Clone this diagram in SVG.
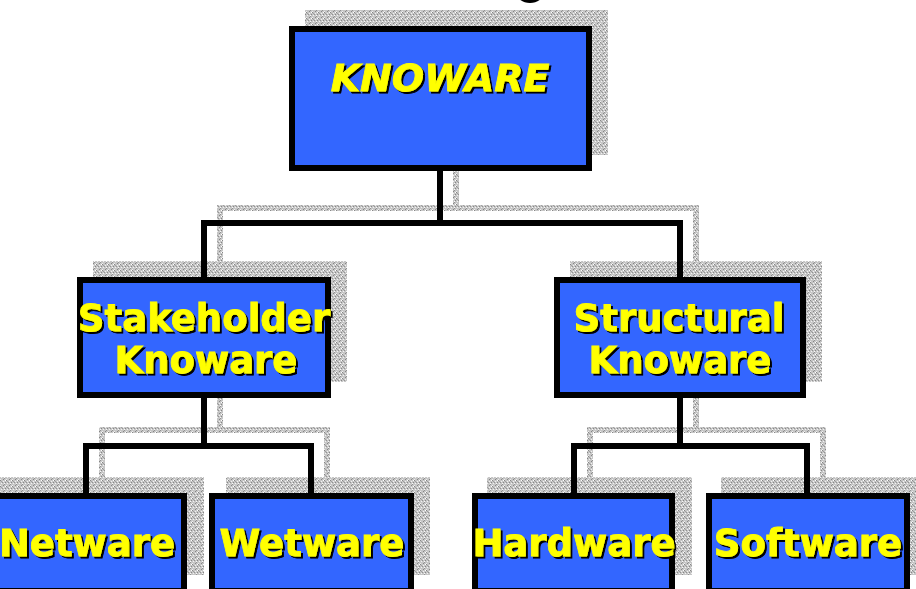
<svg xmlns="http://www.w3.org/2000/svg" width="916" height="589" viewBox="0 0 916 589">
<defs>
<pattern id="stip" patternUnits="userSpaceOnUse" width="6" height="6">
<rect width="6" height="6" fill="#c6c6c6"/>
<rect x="0" y="0" width="1" height="1" fill="#868686"/>
<rect x="3" y="1" width="1" height="1" fill="#f2f2f2"/>
<rect x="2" y="2" width="1" height="1" fill="#939393"/>
<rect x="5" y="2" width="1" height="1" fill="#868686"/>
<rect x="1" y="3" width="1" height="1" fill="#f2f2f2"/>
<rect x="4" y="4" width="1" height="1" fill="#939393"/>
<rect x="0" y="5" width="1" height="1" fill="#eee"/>
<rect x="3" y="5" width="1" height="1" fill="#868686"/>
<rect x="5" y="0" width="1" height="1" fill="#fff"/>
<rect x="1" y="1" width="1" height="1" fill="#a0a0a0"/>
<rect x="4" y="3" width="1" height="1" fill="#fafafa"/>
</pattern>
<filter id="ds" x="-5%" y="-10%" width="115%" height="130%">
<feDropShadow dx="2" dy="2" stdDeviation="0" flood-color="#000" flood-opacity="1"/>
</filter>
</defs>
<style>
.sh{fill:url(#stip);}
.shl{fill:none;stroke:url(#stip);stroke-width:6;}
.box{fill:#3366FF;stroke:#000;stroke-width:6;}
.con{fill:none;stroke:#000;stroke-width:6;stroke-linecap:square;}
.t{font-family:"DejaVu Sans","Verdana",sans-serif;font-weight:bold;font-size:37px;fill:#FFFF00;stroke:#FFFF00;stroke-width:0.8;text-anchor:middle;filter:url(#ds);}
.ti{font-style:italic;font-size:38px;}
</style>
<rect width="916" height="589" fill="#fff"/>
<ellipse cx="530" cy="-8" rx="14" ry="11" fill="#000"/>
<g id="shadows">
<rect class="sh" x="305" y="10" width="303" height="145"/>
<rect class="sh" x="93" y="261" width="254" height="121"/>
<rect class="sh" x="570" y="261" width="252" height="121"/>
<rect class="sh" x="-2" y="477" width="206" height="98"/>
<rect class="sh" x="226" y="477" width="204" height="98"/>
<rect class="sh" x="487" y="477" width="205" height="98"/>
<rect class="sh" x="721" y="477" width="204" height="98"/>
</g>
<g id="connector-shadows">
<path class="shl" d="M456 155 V208 M220 261 V208 H696 V261"/>
<path class="shl" d="M220 382 V430 M102 477 V430 H327 V477"/>
<path class="shl" d="M696 382 V430 M590 477 V430 H823 V477"/>
</g>
<g id="connectors">
<path class="con" d="M440 171 V223 M204 277 V223 H680 V277"/>
<path class="con" d="M204 398 V446 M86 493 V446 H311 V493"/>
<path class="con" d="M680 398 V446 M574 493 V446 H807 V493"/>
</g>
<g id="knoware">
<rect class="box" x="292" y="29" width="297" height="139"/>
<text class="t ti" x="440" y="91">KNOWARE</text>
</g>
<g id="stakeholder">
<rect class="box" x="80" y="280" width="248" height="115"/>
<text class="t" x="204" y="331">Stakeholder</text>
<text class="t" x="206" y="373">Knoware</text>
</g>
<g id="structural">
<rect class="box" x="557" y="280" width="246" height="115"/>
<text class="t" x="679" y="331">Structural</text>
<text class="t" x="680" y="373">Knoware</text>
</g>
<g id="netware">
<rect class="box" x="-15" y="496" width="199" height="95"/>
<text class="t" x="87" y="556">Netware</text>
</g>
<g id="wetware">
<rect class="box" x="212" y="496" width="199" height="95"/>
<text class="t" x="312" y="556">Wetware</text>
</g>
<g id="hardware">
<rect class="box" x="475" y="496" width="197" height="95"/>
<text class="t" x="574" y="556">Hardware</text>
</g>
<g id="software">
<rect class="box" x="709" y="496" width="198" height="95"/>
<text class="t" x="808" y="556">Software</text>
</g>
</svg>
